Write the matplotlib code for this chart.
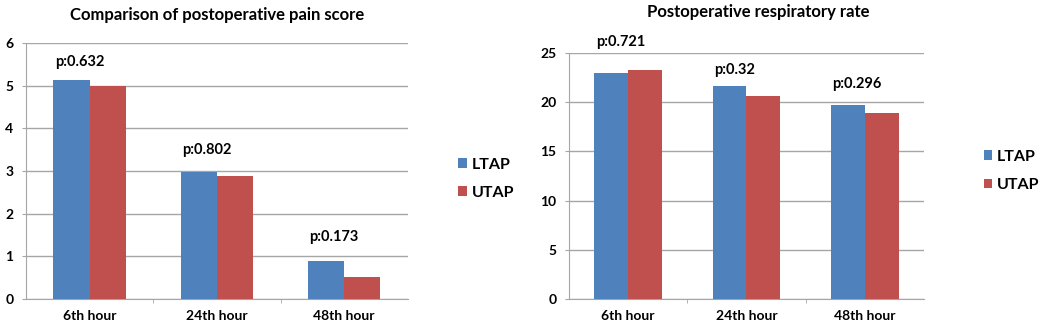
import matplotlib.pyplot as plt
import numpy as np

categories = ["6th hour", "24th hour", "48th hour"]
series_names = ["LTAP", "UTAP"]

pain_ltap = [5.13, 2.98, 0.89]
pain_utap = [4.99, 2.88, 0.51]
pain_p = ["p:0.632", "p:0.802", "p:0.173"]

resp_ltap = [23.0, 21.6, 19.7]
resp_utap = [23.3, 20.6, 18.9]
resp_p = ["p:0.721", "p:0.32", "p:0.296"]

BLUE = "#4F81BD"
RED = "#C0504D"
GRID = "#A6A6A6"

plt.rcParams["font.family"] = ["Lato", "DejaVu Sans"]
plt.rcParams["font.weight"] = "bold"

fig = plt.figure(figsize=(10.49, 3.28), dpi=100)


def draw(ax, ltap, utap, plabels, ymax, ystep, title, title_pos, p_offsets):
    x = np.arange(len(categories))
    w = 0.285
    ax.bar(x - w / 2, ltap, w, color=BLUE, label=series_names[0], zorder=3)
    ax.bar(x + w / 2, utap, w, color=RED, label=series_names[1], zorder=3)
    ax.set_xlim(-0.5, len(categories) - 0.5)
    ax.set_ylim(0, ymax)
    ax.set_yticks(np.arange(0, ymax + ystep / 2, ystep))
    ax.set_xticks(x)
    ax.set_xticklabels(categories, fontsize=10, fontweight="bold")
    ax.tick_params(axis="x", length=0, pad=8)
    ax.set_xticks([0.5, 1.5], minor=True)
    ax.tick_params(axis="x", which="minor", length=3, color=GRID, direction="out")
    ax.tick_params(axis="y", length=3, color=GRID, labelsize=10, pad=6)
    for lab in ax.get_yticklabels():
        lab.set_fontweight("bold")
    ax.yaxis.grid(True, color=GRID, linewidth=1)
    ax.set_axisbelow(True)
    for s in ["top", "right"]:
        ax.spines[s].set_visible(False)
    ax.spines["left"].set_color(GRID)
    ax.spines["bottom"].set_color(GRID)
    for i, lab in enumerate(plabels):
        ax.annotate(lab, (x[i] - w, ltap[i]), textcoords="offset points",
                    xytext=(1, p_offsets[i]), ha="left", va="center",
                    fontsize=10.5, fontweight="bold", annotation_clip=False)
    fig.text(title_pos[0], title_pos[1], title, ha="center", va="center",
             fontsize=12, fontweight="bold")


ax1 = fig.add_axes([0.0248, 0.0884, 0.364, 0.780])
draw(ax1, pain_ltap, pain_utap, pain_p, 6, 1,
     "Comparison of postoperative pain score", (217 / 1049, 1 - 15 / 328),
     [13, 16, 17])
ax1.legend(loc="center left", bbox_to_anchor=(1.115, 0.47), frameon=False,
           borderaxespad=0, handlelength=0.55, handleheight=0.55,
           handletextpad=0.3, labelspacing=0.9,
           prop={"size": 11.5, "weight": "bold"})

ax2 = fig.add_axes([0.5424, 0.0884, 0.3384, 0.75])
draw(ax2, resp_ltap, resp_utap, resp_p, 25, 5,
     "Postoperative respiratory rate", (758 / 1049, 1 - 12 / 328),
     [22, 12, 15])
ax2.legend(loc="center left", bbox_to_anchor=(1.15, 0.52), frameon=False,
           borderaxespad=0, handlelength=0.55, handleheight=0.55,
           handletextpad=0.3, labelspacing=0.9,
           prop={"size": 11.5, "weight": "bold"})

fig.savefig("out.png", dpi=100)
